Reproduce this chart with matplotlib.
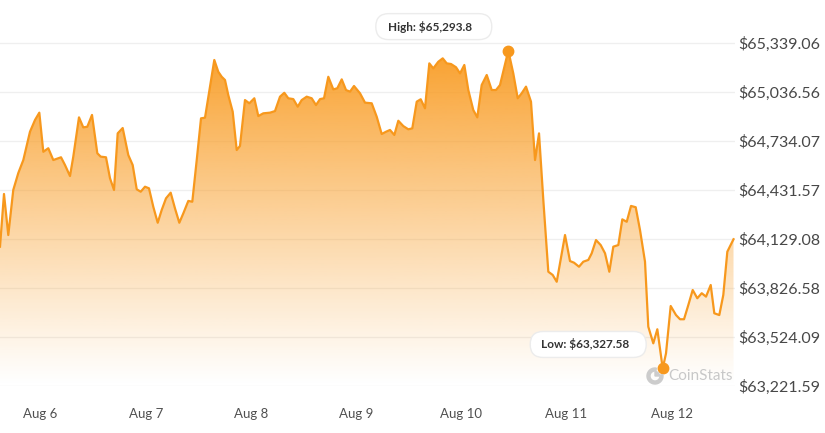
import numpy as np
import matplotlib.pyplot as plt
from matplotlib.patches import Polygon, Wedge, FancyBboxPatch

# hours counted from Aug 6 00:00, prices in USD
hours = [-9.24, -8.33, -7.35, -6.21, -5.06, -3.92, -2.40, -1.25, -0.27, 0.64,
         1.78, 2.92, 4.68, 5.59, 6.73, 7.48, 8.78, 9.76, 10.68, 11.75,
         12.96, 13.73, 14.94, 15.86, 16.77, 17.61, 18.75, 20.03, 21.03, 21.95,
         22.86, 23.84, 24.75, 25.73, 26.74, 27.65, 28.63, 29.70, 30.68, 31.67,
         32.58, 33.72, 34.63, 35.64, 36.62, 37.53, 38.67, 39.65, 40.56, 41.34,
         42.09, 42.84, 43.85, 44.76, 45.51, 46.65, 47.64, 48.78, 49.69, 50.83,
         52.36, 53.50, 54.64, 55.62, 56.53, 57.67, 58.68, 59.59, 60.73, 61.87,
         62.85, 63.77, 64.68, 65.66, 66.80, 67.71, 68.72, 69.70, 70.61, 71.52,
         72.89, 74.03, 75.56, 76.70, 77.84, 78.82, 79.73, 80.72, 81.63, 82.77,
         83.91, 84.82, 85.83, 86.74, 87.72, 88.70, 89.61, 90.75, 91.76, 92.67,
         93.65, 94.79, 95.71, 96.69, 97.60, 98.74, 99.65, 100.65, 101.80, 102.94,
         103.92, 104.83, 106.72, 107.86, 108.87, 109.78, 110.76, 111.90, 112.82, 113.73,
         114.71, 115.85, 116.85, 117.77, 119.66, 120.80, 121.71, 122.85, 123.83, 124.98,
         125.75, 126.73, 127.80, 128.79, 129.77, 130.68, 131.82, 132.73, 133.74, 134.72,
         135.79, 136.77, 137.91, 138.66, 139.80, 140.72, 141.95, 142.70, 143.77, 144.98,
         145.90, 146.81, 147.79, 148.79, 149.84, 150.85, 151.83, 152.90, 153.72, 154.86,
         155.77, 156.69, 158.10]
prices = [64081, 64407, 64153, 64432, 64537, 64617, 64792, 64865, 64910, 64668,
          64690, 64617, 64634, 64586, 64518, 64638, 64881, 64819, 64823, 64896,
          64659, 64638, 64634, 64504, 64432, 64782, 64815, 64648, 64586, 64436,
          64421, 64452, 64442, 64328, 64229, 64308, 64380, 64415, 64318, 64229,
          64287, 64364, 64359, 64617, 64875, 64879, 65071, 65236, 65163, 65132,
          65112, 65019, 64916, 64679, 64704, 64988, 64968, 64999, 64889, 64906,
          64910, 64920, 65009, 65033, 64999, 64994, 64947, 64988, 65009, 64999,
          64957, 64994, 64999, 65132, 65054, 65061, 65116, 65050, 65040, 65075,
          65030, 64972, 64968, 64885, 64778, 64792, 64803, 64772, 64860, 64827,
          64807, 64813, 64978, 64993, 64937, 65215, 65184, 65225, 65246, 65215,
          65211, 65191, 65153, 65205, 65050, 64926, 64881, 65081, 65143, 65050,
          65050, 65081, 65293.8, 65153, 64999, 65030, 65071, 64978, 64617, 64782,
          64370, 63926, 63906, 63864, 64153, 63992, 63982, 63957, 63988, 63999,
          64040, 64122, 64091, 64040, 63926, 64081, 64091, 64250, 64235, 64333,
          64325, 64184, 63988, 63586, 63483, 63570, 63327.58, 63421, 63714, 63658,
          63632, 63632, 63720, 63813, 63762, 63793, 63772, 63844, 63669, 63658,
          63782, 64050, 64127]

price_ticks = [63221.59, 63524.09, 63826.58, 64129.08, 64431.57, 64734.07, 65036.56, 65339.06]
day_hours = [0, 24, 48, 72, 96, 120, 144]
day_labels = ['Aug 6', 'Aug 7', 'Aug 8', 'Aug 9', 'Aug 10', 'Aug 11', 'Aug 12']
high_text = 'High: $65,293.8'
low_text = 'Low: $63,327.58'

line_color = '#F7981D'
fill_color = np.array([249, 158, 40]) / 255.0

plt.rcParams['font.family'] = ['Lato', 'DejaVu Sans']

W, H = 825, 433
fig = plt.figure(figsize=(W / 100, H / 100), dpi=100)
ax = fig.add_axes([0, 47.4 / H, 735 / W, 385.6 / H])

x_min, x_max = -9.24, 158.44
y_min, y_max = price_ticks[0], 65607
ax.set_xlim(x_min, x_max)
ax.set_ylim(y_min, y_max)

# gradient area under the line
verts = [(hours[0], y_min)] + list(zip(hours, prices)) + [(hours[-1], y_min)]
area = Polygon(verts, closed=True, facecolor='none', edgecolor='none')
ax.add_patch(area)
grad = np.zeros((256, 1, 4))
grad[..., :3] = fill_color
grad[..., 3] = np.linspace(1.0, 0.0, 256).reshape(-1, 1) ** 1.1
im = ax.imshow(grad, extent=[x_min, x_max, y_min, price_ticks[-1]],
               aspect='auto', origin='upper', zorder=1)
im.set_clip_path(area)

ax.plot(hours, prices, color=line_color, lw=1.6, zorder=3, solid_joinstyle='round')

ax.set_xlim(x_min, x_max)
ax.set_ylim(y_min, y_max)

# high / low markers and labels (box + text placed in pixel space)
i_hi = int(np.argmax(prices))
i_lo = int(np.argmin(prices))
for i, txt in [(i_hi, high_text), (i_lo, low_text)]:
    ax.plot(hours[i], prices[i], 'o', ms=7.5, color=line_color, zorder=4)
    px, py = ax.transData.transform((hours[i], prices[i]))
    box = FancyBboxPatch((px - 74.5 - 58, py + 24 - 13), 116, 26,
                         boxstyle='round,pad=0,rounding_size=13',
                         fc='white', ec='#ececec', lw=1, transform=None, zorder=5)
    fig.add_artist(box)
    fig.text((px - 78) / W, (py + 24) / H, txt, ha='center', va='center',
             fontsize=8.5, fontweight='bold', color='#333333', zorder=6)

ax.set_yticks(price_ticks)
ax.set_yticklabels(['${:,.2f}'.format(v) for v in price_ticks])
ax.yaxis.tick_right()
ax.tick_params(axis='y', length=0, pad=2.5, labelsize=11.5, labelcolor='#484848')
ax.set_axisbelow(True)
ax.grid(axis='y', color='#efefef', lw=0.9)

ax.set_xticks(day_hours)
ax.set_xticklabels(day_labels)
ax.tick_params(axis='x', length=0, pad=16, labelsize=9.5, labelcolor='#505050')

for s in ax.spines.values():
    s.set_visible(False)
ax.set_facecolor('none')

# CoinStats watermark
logo_c = (6.55, (H - 376) / 100)
fig.add_artist(Wedge(logo_c, 0.08, 80, 370, width=0.03, color='#cccccc',
                     transform=fig.dpi_scale_trans))
fig.add_artist(Wedge(logo_c, 0.045, 0, 90, color='#cccccc',
                     transform=fig.dpi_scale_trans))
fig.text(668 / W, 1 - 376 / H, 'CoinStats', fontsize=11, color='#c8c8c8',
         ha='left', va='center')

plt.savefig('out.png', dpi=100)
